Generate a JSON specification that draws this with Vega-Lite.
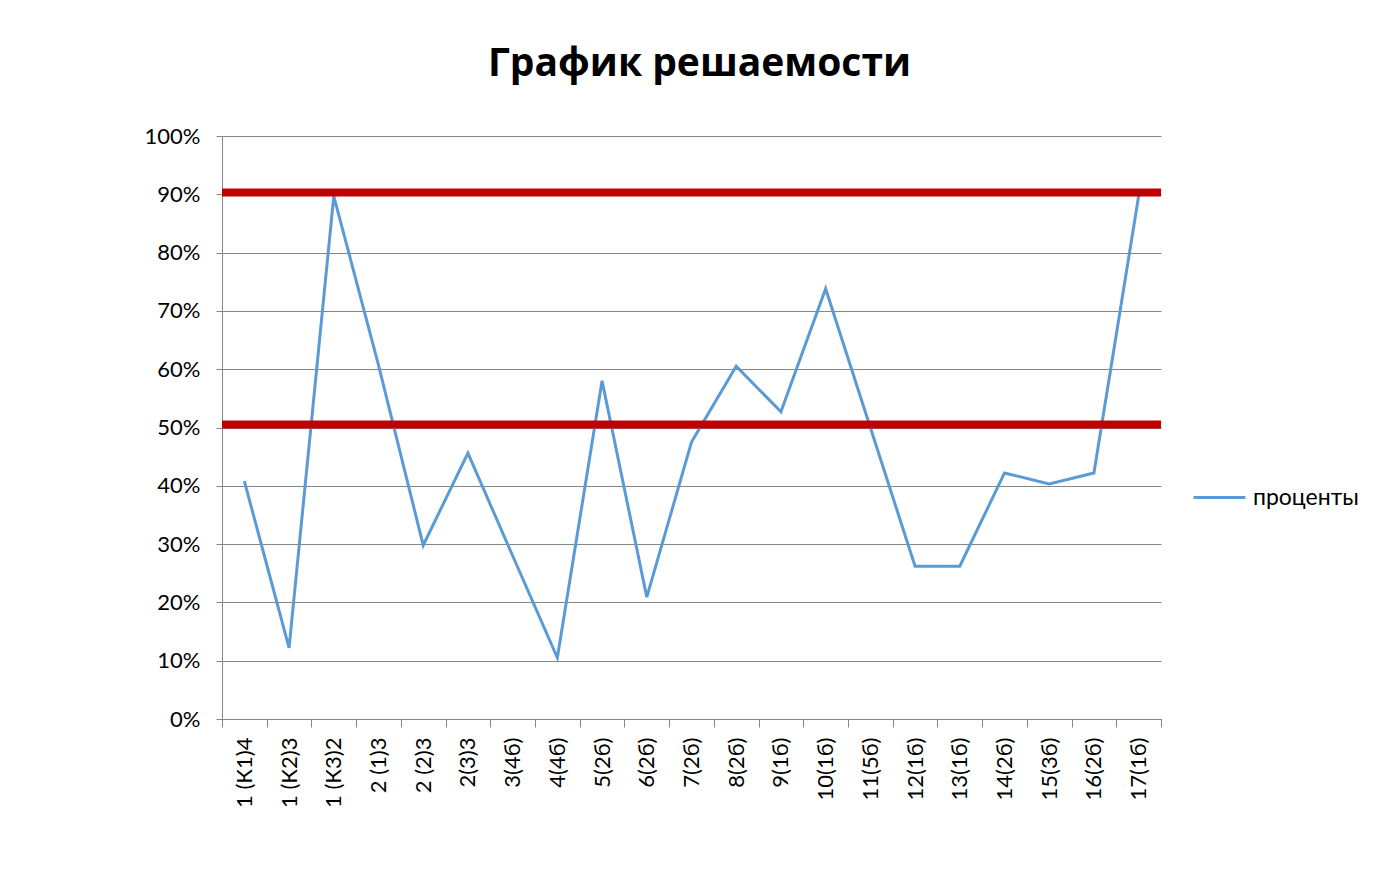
{
  "$schema": "https://vega.github.io/schema/vega-lite/v6.json",
  "width": 939,
  "height": 583,
  "autosize": {"type": "none"},
  "padding": {"left": 222, "top": 136, "right": 220, "bottom": 172},
  "background": "white",
  "title": {
    "text": "График решаемости",
    "font": "Open Sans",
    "fontSize": 39,
    "fontWeight": "bold",
    "color": "#000000",
    "anchor": "middle",
    "offset": 41,
    "dx": 8
  },
  "config": {
    "view": {"stroke": null},
    "font": "Lato"
  },
  "datasets": {
    "pts": [
      {"q": "1 (К1)4", "v": 0.408, "s": "проценты"},
      {"q": "1 (К2)3", "v": 0.122, "s": "проценты"},
      {"q": "1 (К3)2", "v": 0.897, "s": "проценты"},
      {"q": "2 (1)3", "v": 0.607, "s": "проценты"},
      {"q": "2 (2)3", "v": 0.298, "s": "проценты"},
      {"q": "2(3)3", "v": 0.456, "s": "проценты"},
      {"q": "3(4б)", "v": 0.28, "s": "проценты"},
      {"q": "4(4б)", "v": 0.105, "s": "проценты"},
      {"q": "5(2б)", "v": 0.58, "s": "проценты"},
      {"q": "6(2б)", "v": 0.209, "s": "проценты"},
      {"q": "7(2б)", "v": 0.475, "s": "проценты"},
      {"q": "8(2б)", "v": 0.605, "s": "проценты"},
      {"q": "9(1б)", "v": 0.527, "s": "проценты"},
      {"q": "10(1б)", "v": 0.738, "s": "проценты"},
      {"q": "11(5б)", "v": 0.5, "s": "проценты"},
      {"q": "12(1б)", "v": 0.262, "s": "проценты"},
      {"q": "13(1б)", "v": 0.262, "s": "проценты"},
      {"q": "14(2б)", "v": 0.422, "s": "проценты"},
      {"q": "15(3б)", "v": 0.403, "s": "проценты"},
      {"q": "16(2б)", "v": 0.422, "s": "проценты"},
      {"q": "17(1б)", "v": 0.897, "s": "проценты"}
    ],
    "lvl": [{"y": 0.903}, {"y": 0.505}]
  },
  "layer": [
    {
      "data": {"name": "pts"},
      "mark": {"type": "line", "strokeWidth": 3},
      "encoding": {
        "x": {
          "field": "q",
          "type": "ordinal",
          "sort": null,
          "bandPosition": 0.5,
          "scale": {"type": "band", "paddingInner": 0, "paddingOuter": 0},
          "axis": {
            "title": null,
            "labelAngle": -90,
            "labelFontSize": 22,
            "labelColor": "#000000",
            "labelPadding": 10,
            "tickBand": "extent",
            "tickSize": 8,
            "tickColor": "#868686",
            "domainColor": "#868686",
            "grid": false
          }
        },
        "y": {
          "field": "v",
          "type": "quantitative",
          "scale": {"domain": [0, 1], "nice": false},
          "axis": {
            "title": null,
            "format": ".0%",
            "values": [0, 0.1, 0.2, 0.3, 0.4, 0.5, 0.6, 0.7, 0.8, 0.9, 1],
            "labelFontSize": 22,
            "labelColor": "#000000",
            "labelPadding": 16,
            "tickSize": 6,
            "tickColor": "#868686",
            "domainColor": "#868686",
            "gridColor": "#868686",
            "gridWidth": 1
          }
        },
        "color": {
          "field": "s",
          "type": "nominal",
          "scale": {"range": ["#5B9BD5"]},
          "legend": {
            "title": null,
            "orient": "none",
            "legendX": 970,
            "legendY": 334,
            "symbolType": "stroke",
            "symbolSize": 2700,
            "symbolStrokeWidth": 3,
            "labelFontSize": 23,
            "labelColor": "#000000",
            "labelOffset": 6
          }
        }
      }
    },
    {
      "data": {"name": "lvl"},
      "mark": {"type": "rule", "color": "#C00000", "strokeWidth": 8},
      "encoding": {
        "y": {"field": "y", "type": "quantitative"}
      }
    }
  ]
}
